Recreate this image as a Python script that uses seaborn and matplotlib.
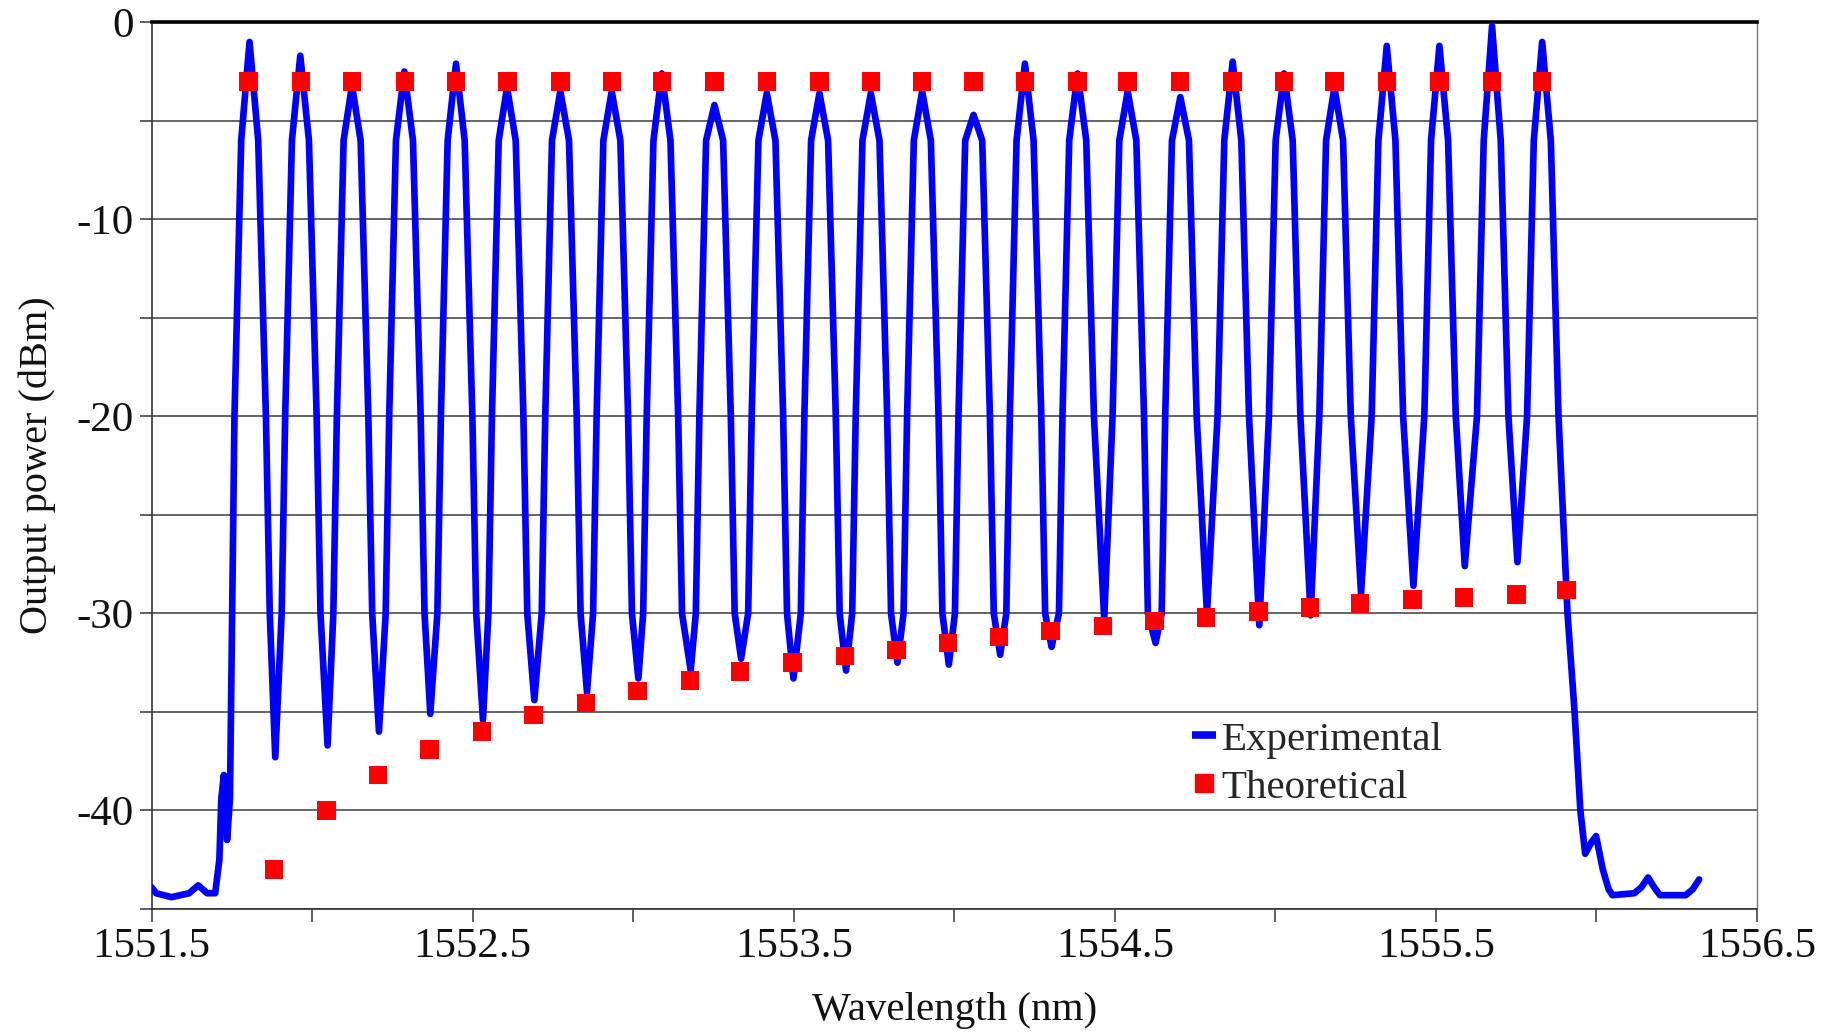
import matplotlib
matplotlib.use("Agg")
import matplotlib.pyplot as plt
from matplotlib.lines import Line2D
import seaborn as sns
import pandas as pd

# ---------------- data ----------------
# Experimental trace: left edge (noise floor + rise)
exp_left_x = [1551.500, 1551.514, 1551.562, 1551.617, 1551.645, 1551.673, 1551.698,
              1551.711, 1551.717, 1551.725, 1551.735, 1551.744, 1551.750]
exp_left_y = [-43.9, -44.2, -44.4, -44.2, -43.8, -44.2, -44.2,
              -42.5, -39.4, -38.2, -41.5, -39.4, -31.0]

# Experimental comb peaks
peak_x = [1551.805, 1551.963, 1552.124, 1552.287, 1552.448, 1552.607, 1552.773,
          1552.933, 1553.089, 1553.253, 1553.416, 1553.580, 1553.740, 1553.900,
          1554.060, 1554.220, 1554.384, 1554.540, 1554.704, 1554.867, 1555.027,
          1555.184, 1555.347, 1555.511, 1555.675, 1555.831]
peak_y = [-1.0, -1.7, -3.2, -2.5, -2.1, -3.3, -3.5, -3.5, -2.6, -4.2, -3.6, -3.6,
          -3.6, -3.5, -4.7, -2.1, -2.6, -3.5, -3.8, -2.0, -2.6, -3.3, -1.2, -1.2,
          -0.2, -1.0]

# Where each peak's rising edge crosses -20 dBm and -6 dBm
rise20_x = [1551.758, 1551.916, 1552.077, 1552.240, 1552.401, 1552.560, 1552.726,
            1552.886, 1553.042, 1553.206, 1553.369, 1553.533, 1553.693, 1553.853,
            1554.013, 1554.173, 1554.337, 1554.493, 1554.657, 1554.820, 1554.980,
            1555.137, 1555.300, 1555.464, 1555.628, 1555.784]
rise6_x = [1551.779, 1551.937, 1552.098, 1552.261, 1552.422, 1552.581, 1552.747,
           1552.907, 1553.063, 1553.227, 1553.390, 1553.554, 1553.714, 1553.874,
           1554.034, 1554.194, 1554.358, 1554.514, 1554.678, 1554.841, 1555.001,
           1555.158, 1555.321, 1555.485, 1555.649, 1555.805]
# Where each peak's falling edge crosses -6 dBm and -20 dBm
fall6_x = [1551.832, 1551.990, 1552.151, 1552.314, 1552.475, 1552.634, 1552.800,
           1552.960, 1553.116, 1553.280, 1553.443, 1553.607, 1553.767, 1553.927,
           1554.087, 1554.247, 1554.411, 1554.567, 1554.731, 1554.894, 1555.054,
           1555.211, 1555.374, 1555.538, 1555.702, 1555.858]
fall20_x = [1551.856, 1552.014, 1552.175, 1552.338, 1552.499, 1552.658, 1552.824,
            1552.984, 1553.140, 1553.304, 1553.467, 1553.631, 1553.791, 1553.951,
            1554.111, 1554.271, 1554.435, 1554.591, 1554.755, 1554.918, 1555.078,
            1555.235, 1555.398, 1555.562, 1555.726, 1555.882]

# Experimental comb valleys (between consecutive peaks)
valley_x = [1551.885, 1552.048, 1552.208, 1552.368, 1552.532, 1552.692, 1552.856,
            1553.016, 1553.179, 1553.336, 1553.499, 1553.663, 1553.823, 1553.983,
            1554.143, 1554.303, 1554.467, 1554.627, 1554.787, 1554.950, 1555.110,
            1555.267, 1555.430, 1555.590, 1555.754]
valley_y = [-37.3, -36.7, -36.0, -35.1, -35.4, -34.4, -34.0, -33.3, -32.9, -32.3,
            -33.3, -32.9, -32.5, -32.6, -32.1, -31.7, -30.3, -31.5, -30.0, -30.6,
            -30.1, -29.0, -28.6, -27.6, -27.4]
# Where the trace crosses -30 dBm on each side of a valley (None: valley not below -31)
valley_in30_x = [1551.868, 1552.026, 1552.187, 1552.350, 1552.511, 1552.670, 1552.836,
                 1552.996, 1553.152, 1553.316, 1553.479, 1553.643, 1553.803, 1553.963,
                 1554.123, 1554.283, None, 1554.603, None, None, None, None, None,
                 None, None]
valley_out30_x = [1551.905, 1552.066, 1552.229, 1552.390, 1552.549, 1552.715, 1552.875,
                  1553.031, 1553.195, 1553.358, 1553.522, 1553.682, 1553.842, 1554.002,
                  1554.162, 1554.326, None, 1554.646, None, None, None, None, None,
                  None, None]

# Experimental trace: right edge (fall + noise floor)
exp_right_x = [1555.910, 1555.932, 1555.950, 1555.965, 1555.985, 1555.999, 1556.020,
               1556.038, 1556.050, 1556.118, 1556.140, 1556.161, 1556.180, 1556.198,
               1556.278, 1556.300, 1556.320]
exp_right_y = [-30.0, -35.0, -40.0, -42.2, -41.6, -41.3, -43.0,
               -44.0, -44.3, -44.2, -43.9, -43.4, -43.9, -44.3,
               -44.3, -44.0, -43.5]

# Theoretical: upper envelope and lower envelope
theo_top_x = [1551.802, 1551.965, 1552.125, 1552.289, 1552.449, 1552.609, 1552.773,
              1552.933, 1553.089, 1553.253, 1553.416, 1553.580, 1553.740, 1553.900,
              1554.060, 1554.220, 1554.384, 1554.540, 1554.704, 1554.867, 1555.027,
              1555.184, 1555.347, 1555.511, 1555.675, 1555.831]
theo_top_y = [-3.0] * 26
theo_low_x = [1551.882, 1552.045, 1552.205, 1552.365, 1552.529, 1552.689, 1552.853,
              1553.013, 1553.176, 1553.333, 1553.496, 1553.660, 1553.820, 1553.980,
              1554.140, 1554.300, 1554.464, 1554.624, 1554.784, 1554.947, 1555.107,
              1555.264, 1555.427, 1555.587, 1555.751, 1555.907]
theo_low_y = [-43.0, -40.0, -38.2, -36.9, -36.0, -35.15, -34.55, -33.95, -33.4,
              -32.95, -32.5, -32.15, -31.85, -31.5, -31.2, -30.9, -30.65, -30.4,
              -30.2, -29.9, -29.7, -29.5, -29.3, -29.2, -29.05, -28.8]

x_ticks = [1551.5, 1552.0, 1552.5, 1553.0, 1553.5, 1554.0, 1554.5, 1555.0,
           1555.5, 1556.0, 1556.5]
x_tick_labels = ["1551.5", "", "1552.5", "", "1553.5", "", "1554.5", "",
                 "1555.5", "", "1556.5"]
y_ticks = [0, -5, -10, -15, -20, -25, -30, -35, -40, -45]
y_tick_labels = ["0", "", "-10", "", "-20", "", "-30", "", "-40", ""]

# ---------------- build tables ----------------
mid_x, mid_y = [], []
for i in range(len(peak_x)):
    mid_x += [rise20_x[i], rise6_x[i], peak_x[i], fall6_x[i], fall20_x[i]]
    mid_y += [-20.0, -6.0, peak_y[i], -6.0, -20.0]
    if i < len(valley_x):
        if valley_in30_x[i] is not None:
            mid_x.append(valley_in30_x[i])
            mid_y.append(-30.0)
        mid_x.append(valley_x[i])
        mid_y.append(valley_y[i])
        if valley_out30_x[i] is not None:
            mid_x.append(valley_out30_x[i])
            mid_y.append(-30.0)

exp_df = pd.DataFrame({"wl": exp_left_x + mid_x + exp_right_x,
                       "p": exp_left_y + mid_y + exp_right_y})
theo_df = pd.DataFrame({"wl": theo_top_x + theo_low_x,
                        "p": theo_top_y + theo_low_y})

# ---------------- plot ----------------
sns.set_style("ticks")
plt.rcParams["font.family"] = ["Liberation Serif", "DejaVu Serif"]

fig = plt.figure(figsize=(18.29, 10.34), dpi=100)
ax = fig.add_axes([0.0829, 0.1209, 0.8777, 0.8576])

sns.lineplot(data=exp_df, x="wl", y="p", sort=False, estimator=None,
             color="#0000ff", lw=4.8, ax=ax, zorder=3,
             solid_joinstyle="round", solid_capstyle="round")
sns.scatterplot(data=theo_df, x="wl", y="p", marker="s", s=175,
                color="#ff0000", edgecolor="none", linewidth=0, ax=ax, zorder=4)

ax.set_xlim(1551.5, 1556.5)
ax.set_ylim(-45, 0)
ax.set_xticks(x_ticks)
ax.set_xticklabels(x_tick_labels)
ax.set_yticks(y_ticks)
ax.set_yticklabels(y_tick_labels)
ax.set_axisbelow(True)
ax.yaxis.grid(True, color="#3c3c3c", lw=1.1)
ax.xaxis.grid(False)

ax.tick_params(axis="both", direction="out", length=9, width=1.1,
               color="#333333", labelsize=31, pad=4, labelcolor="#111111")

for side in ["left", "bottom"]:
    ax.spines[side].set_color("#333333")
    ax.spines[side].set_linewidth(1.2)
ax.spines["top"].set_color("#000000")
ax.spines["top"].set_linewidth(2.6)
ax.spines["right"].set_color("#777777")
ax.spines["right"].set_linewidth(1.0)

ax.set_xlabel("Wavelength (nm)", fontsize=29.5, color="#111111")
ax.set_ylabel("Output power (dBm)", fontsize=29, color="#111111")
ax.xaxis.set_label_coords(0.5, -0.0935)
ax.yaxis.set_label_coords(-0.0595, 0.5)

handles = [Line2D([0], [0], color="#0000ff", lw=5.5, solid_capstyle="butt"),
           Line2D([0], [0], marker="s", color="#ff0000", markersize=13, lw=0)]
ax.legend(handles, ["Experimental", "Theoretical"], loc="upper left",
          bbox_to_anchor=(0.648, 0.212), frameon=False, fontsize=29.5,
          handlelength=0.6, handletextpad=0.12, labelspacing=0.25,
          borderpad=0, borderaxespad=0)

fig.savefig("out.png", dpi=100)
